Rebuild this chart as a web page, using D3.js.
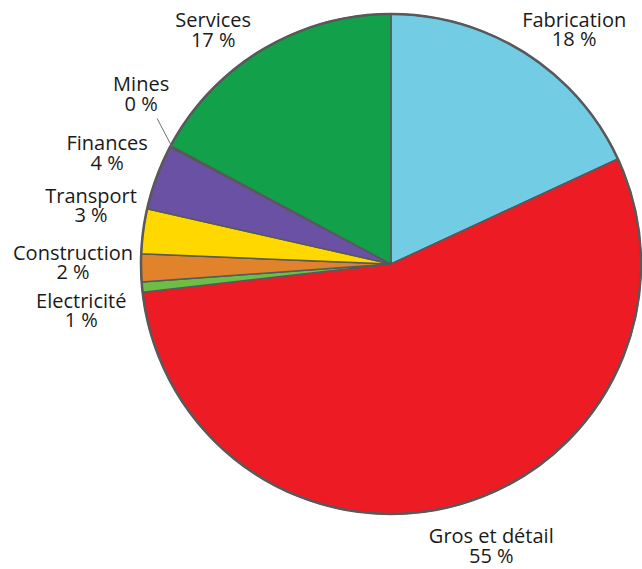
<!DOCTYPE html>
<html><head><meta charset="utf-8">
<script src="https://cdn.jsdelivr.net/npm/d3@7"></script>
<style>
html,body{margin:0;padding:0;background:#fff;}
text{font-family:"Open Sans",sans-serif;font-size:20px;fill:#1a1a1a;}
</style></head>
<body><svg id="chart" width="642" height="569"></svg>
<script>
// Data
const categories = ["Fabrication","Gros et détail","Electricité","Construction","Transport","Finances","Mines","Services"];
const values = [18.1, 55.1, 0.65, 1.8, 2.9, 4.2, 0.1, 17.15];
const pctLabels = ["18 %","55 %","1 %","2 %","3 %","4 %","0 %","17 %"];
const colors = ["#72CDE4","#ED1C24","#6DBE45","#E0832B","#FFD800","#6A51A3","#8C8C8C","#13A04B"];
// Layout nudges for labels (relative to outer label centroid)
const labelNudges = [[27,8],[22,1],[-21,18],[-28,-8],[-12.5,-22],[-12,-12],[6,-35],[-29,13]];

const svg = d3.select("#chart");
const cx = 391, cy = 264, R = 250, labelR = 290;
const g = svg.append("g").attr("transform", `translate(${cx},${cy})`);

const data = categories.map((c,i)=>({cat:c, value:values[i], pct:pctLabels[i], color:colors[i], nudge:labelNudges[i]}));
const pie = d3.pie().value(d=>d.value).sort(null);
const arcs = pie(data);
const arc = d3.arc().innerRadius(0).outerRadius(R);
const labelArc = d3.arc().innerRadius(labelR).outerRadius(labelR);
const edgeArc = d3.arc().innerRadius(R-2).outerRadius(R-2);

g.selectAll("path.slice").data(arcs).join("path")
  .attr("class","slice")
  .attr("d", arc)
  .attr("fill", d=>d.data.color)
  .attr("stroke", "#58595B")
  .attr("stroke-width", 1.5)
  .attr("stroke-linejoin","round");

g.append("circle").attr("r", R).attr("fill","none").attr("stroke","#58595B").attr("stroke-width",2.5);

// Leader line for Mines
const mines = arcs[6];
const mp = edgeArc.centroid(mines);
const ml = labelArc.centroid(mines);
g.append("line")
  .attr("x1", mp[0]).attr("y1", mp[1])
  .attr("x2", ml[0]+mines.data.nudge[0]+16).attr("y2", ml[1]+mines.data.nudge[1]+26)
  .attr("stroke","#6d6e70").attr("stroke-width",1);

const lbl = g.selectAll("text.lbl").data(arcs).join("text")
  .attr("class","lbl")
  .attr("text-anchor","middle")
  .attr("transform", d=>{const c=labelArc.centroid(d); return `translate(${c[0]+d.data.nudge[0]},${c[1]+d.data.nudge[1]-1})`;});
lbl.append("tspan").attr("x",0).attr("y",0).text(d=>d.data.cat);
lbl.append("tspan").attr("x",0).attr("y",19.5).text(d=>d.data.pct);
</script></body></html>
